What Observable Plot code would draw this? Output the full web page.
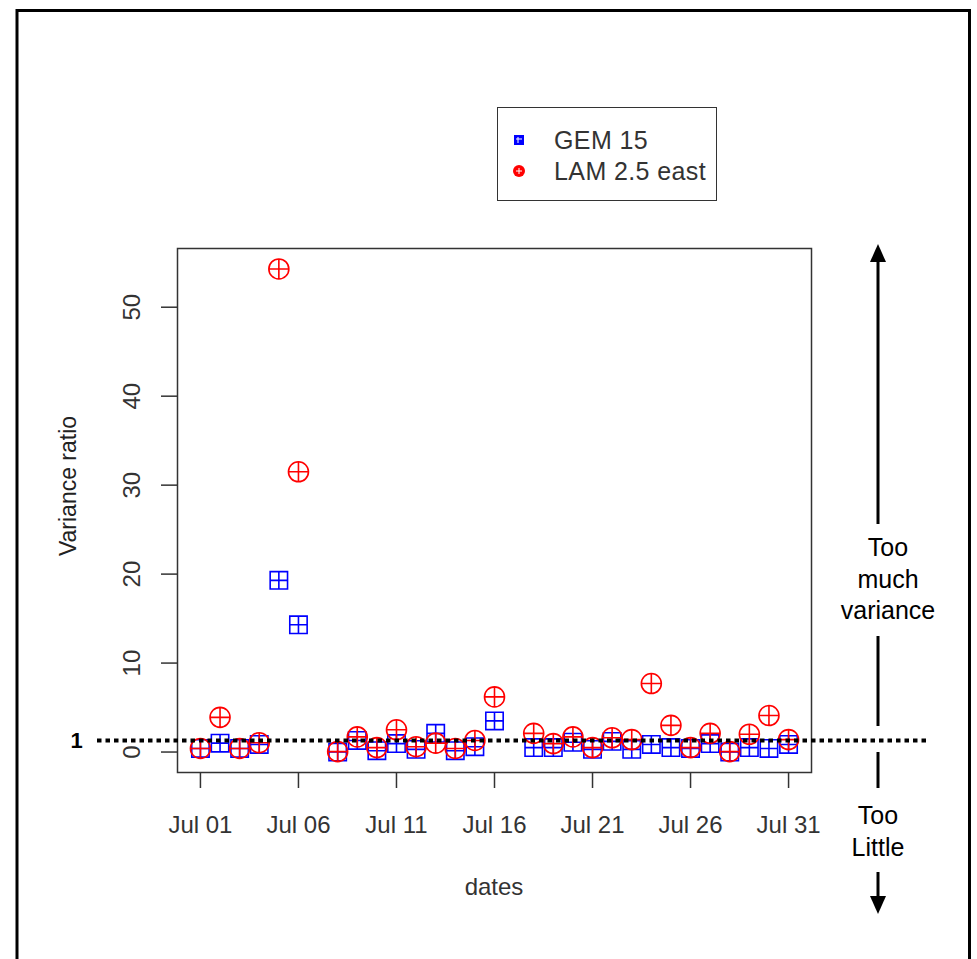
<!DOCTYPE html>
<html>
<head>
<meta charset="utf-8">
<script src="https://cdn.jsdelivr.net/npm/d3@7"></script>
<script src="https://cdn.jsdelivr.net/npm/@observablehq/plot@0.6"></script>
<style>
  html, body { margin: 0; padding: 0; background: #fff; }
  #wrap { position: relative; width: 977px; height: 959px; overflow: hidden; font-family: "Liberation Sans", Arial, Helvetica, sans-serif; }
  #wrap > svg { position: absolute; left: 0; top: 0; }
  #legend { position: absolute; left: 497px; top: 107px; width: 220px; height: 94px; border: 1.5px solid #333; box-sizing: border-box; background: #fff; }
  .lg-row { position: absolute; left: 0; height: 30px; display: flex; align-items: center; font-size: 25px; color: #333; letter-spacing: 0.4px; }
</style>
</head>
<body>
<div id="wrap"></div>
<script>
// ---- data ----
const days = [1, 2, 3, 4, 5, 6, 8, 9, 10, 11, 12, 13, 14, 15, 16, 18, 19, 20, 21, 22, 23, 24, 25, 26, 27, 28, 29, 30, 31];
const gem15 = [0.4, 1.0, 0.4, 0.85, 19.3, 14.3, 0.0, 1.3, 0.15, 0.95, 0.3, 2.1, 0.15, 0.6, 3.5, 0.5, 0.5, 1.1, 0.3, 1.2, 0.3, 0.85, 0.5, 0.4, 0.95, 0.0, 0.5, 0.4, 0.85];
const lam25 = [0.4, 3.9, 0.4, 1.05, 54.3, 31.5, 0.05, 1.7, 0.5, 2.5, 0.6, 1.0, 0.4, 1.3, 6.2, 2.1, 0.95, 1.7, 0.5, 1.6, 1.4, 7.7, 3.0, 0.5, 2.1, 0.05, 2.0, 4.1, 1.4];
const seriesNames = ["GEM 15", "LAM 2.5 east"];
const xTickDays = [1, 6, 11, 16, 21, 26, 31];
const xTickLabels = ["Jul 01", "Jul 06", "Jul 11", "Jul 16", "Jul 21", "Jul 26", "Jul 31"];
const yTicks = [0, 10, 20, 30, 40, 50];
const refValue = 1.3;
const refLabel = "1";
const yLabel = "Variance ratio";
const xLabel = "dates";
const noteUp = ["Too", "much", "variance"];
const noteDown = ["Too", "Little"];

// ---- custom R-like symbols ----
const boxPlus = {
  draw(ctx, size) {
    const s = Math.sqrt(size) / 2;
    ctx.moveTo(-s, -s); ctx.lineTo(s, -s); ctx.lineTo(s, s); ctx.lineTo(-s, s); ctx.closePath();
    ctx.moveTo(-s, 0); ctx.lineTo(s, 0);
    ctx.moveTo(0, -s); ctx.lineTo(0, s);
  }
};
const circlePlus = {
  draw(ctx, size) {
    const r = Math.sqrt(size / Math.PI);
    ctx.moveTo(r, 0); ctx.arc(0, 0, r, 0, 2 * Math.PI);
    ctx.moveTo(-r, 0); ctx.lineTo(r, 0);
    ctx.moveTo(0, -r); ctx.lineTo(0, r);
  }
};

const gemRows = days.map((d, i) => ({day: d, v: gem15[i]}));
const lamRows = days.map((d, i) => ({day: d, v: lam25[i]}));

const font = '"Liberation Sans", Arial, Helvetica, sans-serif';

const chart = Plot.plot({
  width: 977,
  height: 959,
  marginLeft: 177,
  marginRight: 166,
  marginTop: 248,
  marginBottom: 187,
  style: {fontFamily: font, fontSize: "24px", color: "#333", background: "transparent", overflow: "visible"},
  x: {type: "linear", domain: [-0.17, 32.17]},
  y: {domain: [-2.3, 56.6]},
  marks: [
    Plot.frame({stroke: "#333", strokeWidth: 1.5}),
    Plot.axisX({ticks: xTickDays, tickFormat: d => xTickLabels[xTickDays.indexOf(d)], tickSize: 16, tickPadding: 27, fontSize: 24, label: null, stroke: "#333", strokeWidth: 1.5}),
    Plot.axisY({ticks: yTicks, tickSize: 16, tickPadding: 22, tickRotate: -90, fontSize: 24, label: null, stroke: "#333", strokeWidth: 1.5}),
    Plot.dot(gemRows, {x: "day", y: "v", symbol: boxPlus, r: 9.8, stroke: "#0000ff", fill: "none", strokeWidth: 1.6}),
    Plot.dot(lamRows, {x: "day", y: "v", symbol: circlePlus, r: 10, stroke: "#ff0000", fill: "none", strokeWidth: 1.6}),
    Plot.ruleY([refValue], {insetLeft: -80, insetRight: -119, stroke: "#000", strokeWidth: 4, strokeDasharray: "4.5 4"}),
    Plot.text([refValue], {y: d => d, text: () => refLabel, frameAnchor: "left", dx: -107, fontWeight: "bold", fontSize: 22, fill: "#000"})
  ]
});
const wrap = document.getElementById("wrap");
wrap.appendChild(chart);

// ---- annotation overlay ----
const ov = d3.select(wrap).append("svg").attr("width", 977).attr("height", 959)
  .style("font-family", font).style("pointer-events", "none");

// outer frame
ov.append("path").attr("d", "M17,962 V10.5 H969.5 V962").attr("fill", "none").attr("stroke", "#000").attr("stroke-width", 3);

// axis titles
ov.append("text").attr("transform", "translate(68,486) rotate(-90)").attr("text-anchor", "middle")
  .attr("dominant-baseline", "central").attr("font-size", 23).attr("fill", "#222").text(yLabel);
ov.append("text").attr("x", 494).attr("y", 886).attr("text-anchor", "middle")
  .attr("dominant-baseline", "central").attr("font-size", 24).attr("fill", "#333").text(xLabel);

// right-hand arrows and notes
const ax = 878;
const seg = (y1, y2) => ov.append("line").attr("x1", ax).attr("x2", ax).attr("y1", y1).attr("y2", y2).attr("stroke", "#000").attr("stroke-width", 3);
seg(258, 524); seg(636, 726); seg(752, 788); seg(872, 900);
ov.append("path").attr("d", `M${ax},244 L${ax - 8},262 L${ax + 8},262 Z`).attr("fill", "#000");
ov.append("path").attr("d", `M${ax},914 L${ax - 8},896 L${ax + 8},896 Z`).attr("fill", "#000");
noteUp.forEach((t, i) => ov.append("text").attr("x", 888).attr("y", 547 + i * 31.5).attr("text-anchor", "middle")
  .attr("dominant-baseline", "central").attr("font-size", 25).attr("fill", "#000").text(t));
noteDown.forEach((t, i) => ov.append("text").attr("x", 878).attr("y", 815 + i * 31.5).attr("text-anchor", "middle")
  .attr("dominant-baseline", "central").attr("font-size", 25).attr("fill", "#000").text(t));

// legend
const lg = document.createElement("div");
lg.id = "legend";
const lgSymbols = [
  `<svg width="14" height="14" viewBox="-7 -7 14 14"><rect x="-5" y="-5" width="10" height="10" fill="#0000ff"/><path d="M-3,-1 H3 M-1,-3 V3" stroke="#fff" stroke-width="1"/></svg>`,
  `<svg width="14" height="14" viewBox="-7 -7 14 14"><circle r="6" fill="#ff0000"/><path d="M-3,0 H3 M0,-3 V3" stroke="#fff" stroke-width="1"/></svg>`
];
seriesNames.forEach((name, i) => {
  const row = document.createElement("div");
  row.className = "lg-row";
  row.style.top = (17 + i * 31) + "px";
  row.innerHTML = `<span style="display:inline-block;width:14px;margin-left:14px;margin-right:28px;line-height:0">${lgSymbols[i]}</span><span>${name}</span>`;
  lg.appendChild(row);
});
wrap.appendChild(lg);
</script>
</body>
</html>
